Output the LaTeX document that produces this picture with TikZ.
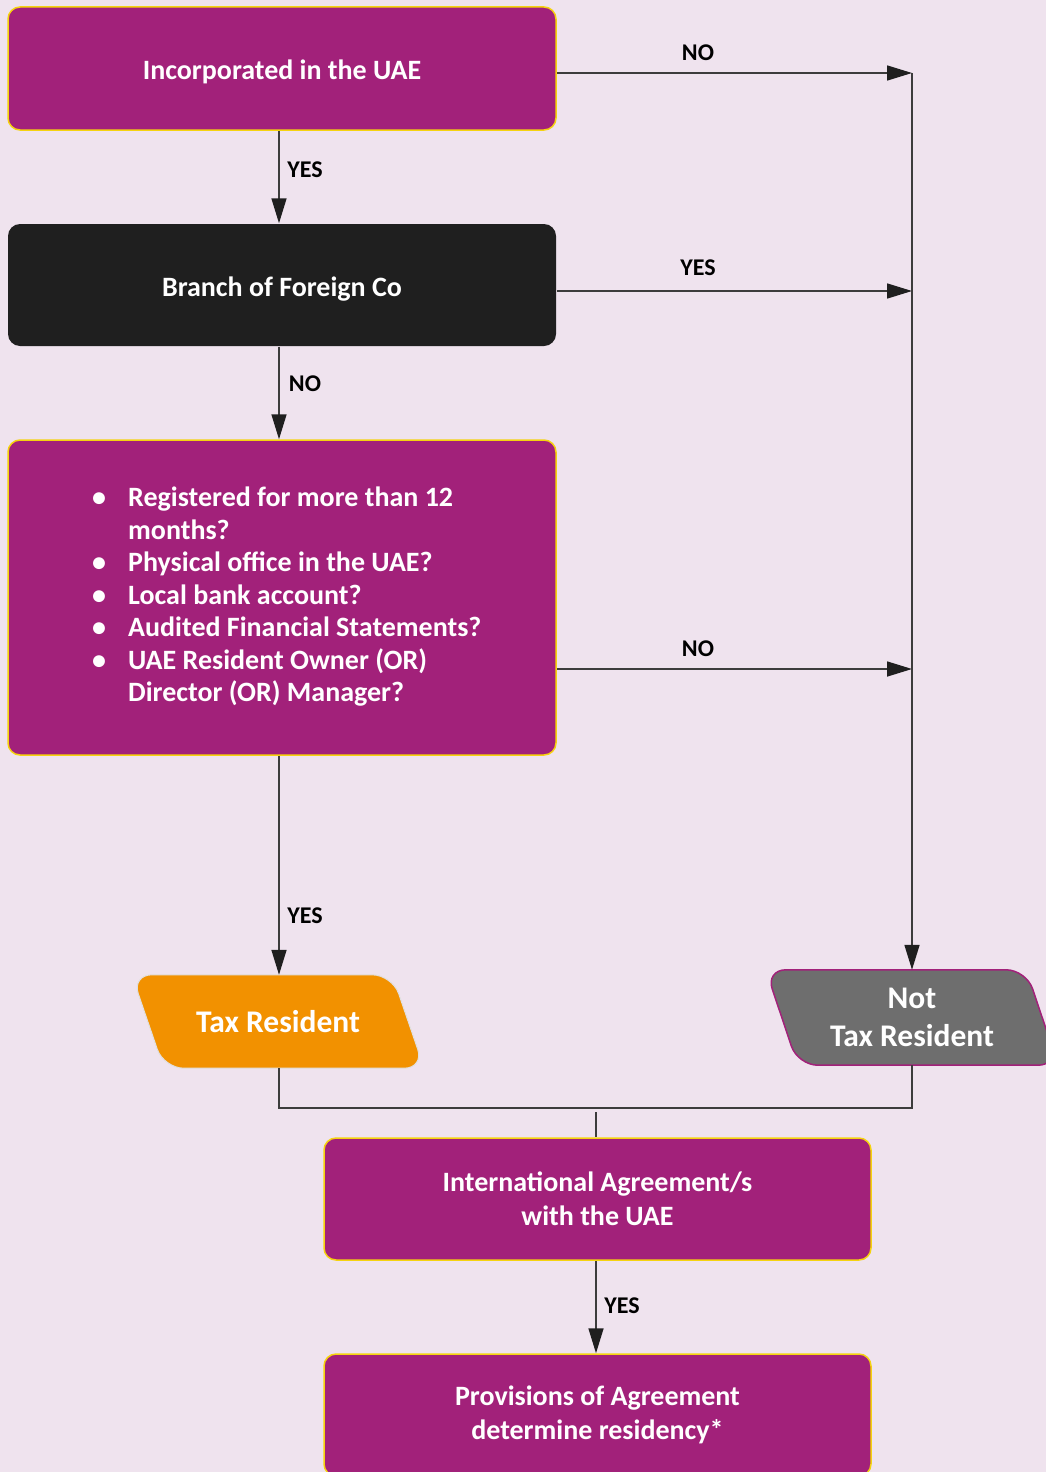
\documentclass[tikz,border=0pt]{standalone}
\usepackage{fontspec}
\setmainfont{Carlito}
\usetikzlibrary{arrows.meta}
\definecolor{bg}{HTML}{EFE3EE}
\definecolor{plum}{HTML}{A2217A}
\definecolor{gold}{HTML}{F5D30F}
\definecolor{ink}{HTML}{1F1F1F}
\definecolor{amber}{HTML}{F29100}
\definecolor{slate}{HTML}{6E6E6E}
\definecolor{wire}{HTML}{3C3C3C}
\begin{document}
\begin{tikzpicture}[x=1pt,y=-1pt,
  box/.style={rounded corners=12pt, fill=plum, draw=gold, line width=1.5pt, inner sep=0pt,
    text=white, font=\bfseries\fontsize{28}{34}\selectfont, align=center,
    minimum width=548pt},
  darkbox/.style={box, fill=ink, draw=none},
  lab/.style={font=\bfseries\fontsize{24}{28}\selectfont, text=black, inner sep=0pt},
  arr/.style={draw=wire, line width=1.6pt, -{Triangle[length=25pt,width=15pt,color=ink]}},
  wireline/.style={draw=wire, line width=1.6pt},
  shapebody/.style={minimum width=260pt, inner sep=0pt},
  shapetext/.style={text=white, font=\bfseries\fontsize{31.5}{38}\selectfont, align=center, inner sep=0pt}
]
\useasboundingbox (0,0) rectangle (1046,1472);
\clip (0,0) rectangle (1046,1472);
\fill[bg] (0,0) rectangle (1046,1472);

% boxes
\node[box, minimum height=123pt] (b1) at (282,68.5) {\raisebox{-3pt}[\height][\depth]{Incorporated in the UAE}};
\node[darkbox, minimum height=122pt] (b2) at (282,285) {\raisebox{-4pt}[\height][\depth]{Branch of Foreign Co}};
\node[box, minimum height=315pt] (b3) at (282,597.5) {};
\node[anchor=west, inner sep=0pt, text=white, font=\bfseries\fontsize{28}{32.5}\selectfont, align=left] (lst) at (92,597.5)
 {\begin{tabular}{@{}l@{\hspace{22pt}}l@{}}
  \makebox[14pt][c]{•} & Registered for more than 12\\
   & months?\\
  \makebox[14pt][c]{•} & Physical office in the UAE?\\
  \makebox[14pt][c]{•} & Local bank account?\\
  \makebox[14pt][c]{•} & Audited Financial Statements?\\
  \makebox[14pt][c]{•} & UAE Resident Owner (OR)\\
   & Director (OR) Manager?
 \end{tabular}};
\node[box, minimum width=547pt, minimum height=122pt] (b4) at (597.5,1199) {International Agreement/s\\with the UAE};
\node[box, minimum width=547pt, minimum height=122pt] (b5) at (597.5,1415) {Provisions of Agreement\\determine residency*};

% Tax Resident parallelogram
\node[shapebody, minimum height=93pt] (tr) at (278,1021.5) {};
\draw[fill=amber, draw=black!12, line width=1pt, rounded corners=20pt]
  ([xshift=-16pt]tr.north west) -- ([xshift=-16pt]tr.north east) --
  ([xshift=16pt]tr.south east) -- ([xshift=16pt]tr.south west) -- cycle;
\node[shapetext] (trt) at (278,1022) {Tax Resident};

% Not Tax Resident parallelogram
\node[shapebody, minimum height=95pt] (ntr) at (912,1017.5) {};
\draw[fill=slate, draw=plum, line width=1.5pt, rounded corners=20pt]
  ([xshift=-16pt]ntr.north west) -- ([xshift=-16pt]ntr.north east) --
  ([xshift=16pt]ntr.south east) -- ([xshift=16pt]ntr.south west) -- cycle;
\node[shapetext] (ntrt) at (912,1017) {Not\\Tax Resident};

% helper coordinates
\coordinate (lx) at (279,0);
\coordinate (r1) at (912,73);
\coordinate (r2) at (912,291);
\coordinate (r3) at (912,669);
\coordinate (j) at (596,1108);
\coordinate (j2) at (596,1112);

% connectors
\draw[arr] (b1.east |- r1) -- (r1);
\draw[arr] (b2.east |- r2) -- (r2);
\draw[arr] (b3.east |- r3) -- (r3);
\draw[arr] (r1) -- (ntr.north);
\draw[arr] (b1.south -| lx) -- (b2.north -| lx);
\draw[arr] (b2.south -| lx) -- (b3.north -| lx);
\draw[arr] (b3.south -| lx) -- (tr.north -| lx);
\draw[wireline] (tr.south -| lx) -- (j -| lx) -- (j -| ntr.south) -- (ntr.south);
\draw[wireline] (j2) -- (b4.north -| j2);
\draw[arr] (b4.south -| j2) -- (b5.north -| j2);

% labels
\node[lab] (l1) at (698,53) {NO};
\node[lab] (l2) at (698,268) {YES};
\node[lab] (l3) at (698,649) {NO};
\node[lab] (l4) at (305,170) {YES};
\node[lab] (l5) at (305,384) {NO};
\node[lab] (l6) at (305,916) {YES};
\node[lab] (l7) at (622,1306) {YES};
\end{tikzpicture}
\end{document}
